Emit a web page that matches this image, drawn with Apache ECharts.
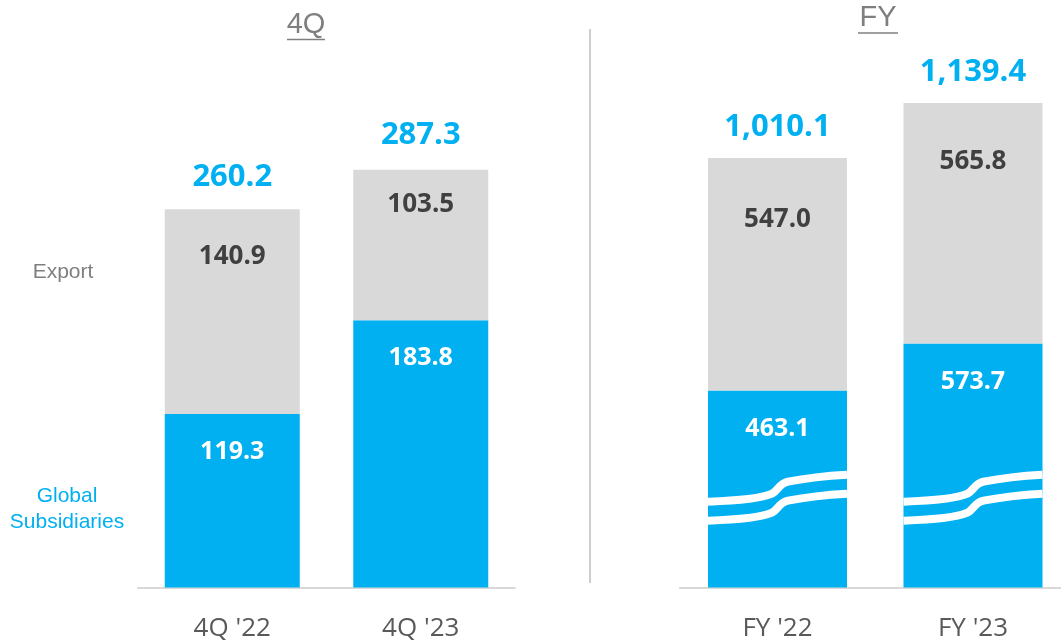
<!DOCTYPE html>
<html>
<head>
<meta charset="utf-8">
<script src="https://cdn.jsdelivr.net/npm/echarts@6/dist/echarts.min.js"></script>
<style>
  html, body { margin: 0; padding: 0; background: #ffffff; }
  #chart { width: 1061px; height: 644px; }
</style>
</head>
<body>
<div id="chart"></div>
<script>
// Quarterly panel (4Q)
const categories4Q = ["4Q '22", "4Q '23"];
const global4Q = [119.3, 183.8];
const export4Q = [140.9, 103.5];
const total4Q = [260.2, 287.3];

// Full-year panel (FY)
const categoriesFY = ["FY '22", "FY '23"];
const globalFY = [463.1, 573.7];
const exportFY = [547.0, 565.8];
const totalFY = [1010.1, 1139.4];

// Layout / styling
const BLUE = '#00b0f0';
const GREY_BAR = '#d9d9d9';
const NUM_FONT = 'Open Sans';
const BAR_W_4Q = 135;
const BAR_W_FY = 139;
const BREAK_VALUE = 230;              // where the axis-break marks sit on the FY bars
const globalLabelDrop = 38;
const exportLabelDrop = [[47, 35], [62, 59]];
const totalLabelRise = [[32, 35], [31, 31]];

const fmt = v => v.toLocaleString('en-US', { minimumFractionDigits: 1, maximumFractionDigits: 1 });

function panelSeries(idx, globalVals, exportVals, totals, drops, rises) {
  return [
    {
      name: 'Global Subsidiaries', type: 'bar', stack: 's' + idx,
      xAxisIndex: idx, yAxisIndex: idx,
      barWidth: idx === 0 ? BAR_W_4Q : BAR_W_FY,
      itemStyle: { color: BLUE },
      data: globalVals,
      label: {
        show: true, position: ['50%', globalLabelDrop], align: 'center', verticalAlign: 'middle',
        color: '#ffffff', fontFamily: NUM_FONT, fontWeight: 'bold', fontSize: 25,
        formatter: p => fmt(p.value)
      },
      z: 2
    },
    {
      name: 'Export', type: 'bar', stack: 's' + idx,
      xAxisIndex: idx, yAxisIndex: idx,
      barWidth: idx === 0 ? BAR_W_4Q : BAR_W_FY,
      itemStyle: { color: GREY_BAR },
      data: exportVals.map((v, i) => ({
        value: v,
        label: { position: ['50%', drops[i]] }
      })),
      label: {
        show: true, align: 'center', verticalAlign: 'middle',
        color: '#404040', fontFamily: NUM_FONT, fontWeight: 'bold', fontSize: 26,
        formatter: p => fmt(p.value)
      },
      z: 2
    },
    {
      name: 'Total', type: 'scatter',
      xAxisIndex: idx, yAxisIndex: idx,
      symbolSize: 0, silent: true,
      itemStyle: { opacity: 1 },
      data: totals.map((v, i) => ({
        value: v,
        label: { offset: [0, -rises[i]] }
      })),
      label: {
        show: true, position: 'inside', align: 'center', verticalAlign: 'middle',
        color: BLUE, opacity: 1, fontFamily: NUM_FONT, fontWeight: 'bold', fontSize: 31,
        formatter: p => fmt(p.value)
      },
      z: 3
    }
  ];
}

// White double wave drawn across each FY bar to mark the broken scale
function breakMarks(params, api) {
  const c = api.coord([api.value(0), api.value(1)]);
  const x0 = c[0] - BAR_W_FY / 2;
  const y = c[1];
  const w = BAR_W_FY;
  const d = dy =>
    `M${x0},${y + 12 + dy} ` +
    `C${x0 + 30},${y + 11 + dy} ${x0 + 55},${y + 8 + dy} ${x0 + 64},${y + 4 + dy} ` +
    `C${x0 + 70},${y + 1 + dy} ${x0 + 71},${y - 6 + dy} ${x0 + 80},${y - 8 + dy} ` +
    `C${x0 + 100},${y - 12 + dy} ${x0 + 120},${y - 14 + dy} ${x0 + w},${y - 15 + dy}`;
  const st = { stroke: '#ffffff', lineWidth: 8, fill: 'none' };
  return {
    type: 'group',
    children: [
      { type: 'path', shape: { pathData: d(0) }, style: st },
      { type: 'path', shape: { pathData: d(19) }, style: st }
    ]
  };
}

const categoryAxis = (gridIndex, data) => ({
  type: 'category', gridIndex, data,
  axisLine: { show: true, lineStyle: { color: '#d9d9d9', width: 2 } },
  axisTick: { show: false },
  axisLabel: {
    color: '#595959', fontFamily: NUM_FONT, fontSize: 26, lineHeight: 30,
    margin: 26, interval: 0
  }
});

const valueAxis = (gridIndex, max) => ({
  type: 'value', gridIndex, min: 0, max,
  show: false, splitLine: { show: false }
});

const option = {
  backgroundColor: '#ffffff',
  animation: false,
  grid: [
    { left: 138, width: 377, top: 6, bottom: 56.5, containLabel: false, outerBoundsMode: 'none' },
    { left: 679.75, width: 391, top: 34.7, bottom: 56.5, containLabel: false, outerBoundsMode: 'none' }
  ],
  xAxis: [categoryAxis(0, categories4Q), categoryAxis(1, categoriesFY)],
  yAxis: [valueAxis(0, 400), valueAxis(1, 1300)],
  series: [
    ...panelSeries(0, global4Q, export4Q, total4Q, exportLabelDrop[0], totalLabelRise[0]),
    ...panelSeries(1, globalFY, exportFY, totalFY, exportLabelDrop[1], totalLabelRise[1]),
    {
      type: 'custom', xAxisIndex: 1, yAxisIndex: 1,
      data: categoriesFY.map((c, i) => [i, BREAK_VALUE]),
      renderItem: breakMarks, silent: true, z: 5
    }
  ],
  graphic: [
    // panel titles
    { type: 'text', style: { text: '4Q', x: 306, y: 25, textAlign: 'center', textVerticalAlign: 'middle',
        font: '29px "Liberation Sans", Arial, sans-serif', fill: '#7f7f7f' } },
    { type: 'line', shape: { x1: 287, y1: 39.5, x2: 325, y2: 39.5 }, style: { stroke: '#7f7f7f', lineWidth: 1.5 } },
    { type: 'text', style: { text: 'FY', x: 878, y: 18, textAlign: 'center', textVerticalAlign: 'middle',
        font: '29px "Liberation Sans", Arial, sans-serif', fill: '#7f7f7f' } },
    { type: 'line', shape: { x1: 858, y1: 33, x2: 898, y2: 33 }, style: { stroke: '#7f7f7f', lineWidth: 1.5 } },
    // panel divider
    { type: 'line', shape: { x1: 590, y1: 29, x2: 590, y2: 583 }, style: { stroke: '#bfbfbf', lineWidth: 1.5 } },
    // segment names
    { type: 'text', style: { text: 'Export', x: 63, y: 272, textAlign: 'center', textVerticalAlign: 'middle',
        font: '21px "Liberation Sans", Arial, sans-serif', fill: '#7f7f7f' } },
    { type: 'text', style: { text: 'Global\nSubsidiaries', x: 67, y: 509, textAlign: 'center', textVerticalAlign: 'middle',
        font: '21px "Liberation Sans", Arial, sans-serif', lineHeight: 26, fill: BLUE } }
  ]
};

const chart = echarts.init(document.getElementById('chart'), null, { renderer: 'canvas' });
chart.setOption(option);
</script>
</body>
</html>
